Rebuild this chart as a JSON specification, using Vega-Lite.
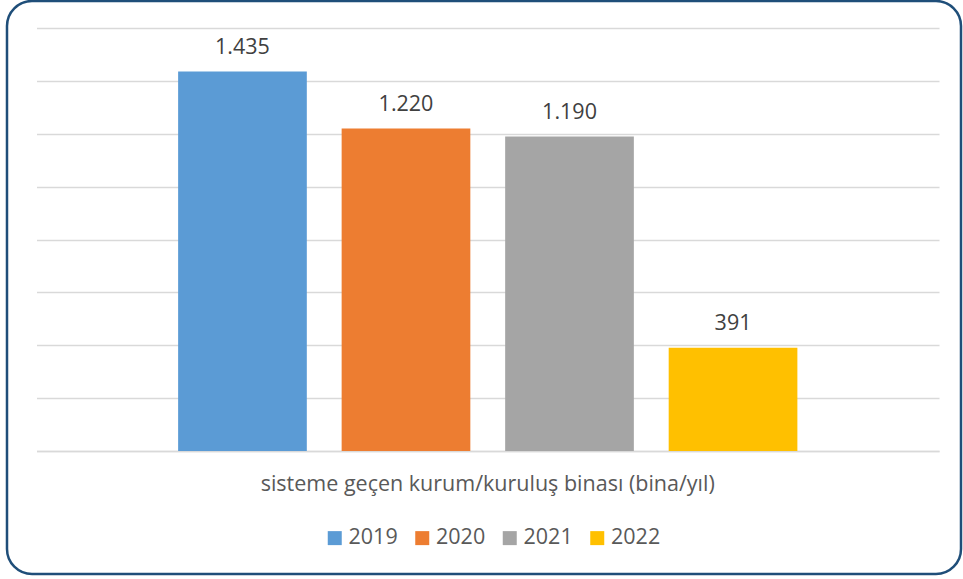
{
  "$schema": "https://vega.github.io/schema/vega-lite/v6.json",
  "width": 963,
  "height": 579,
  "autosize": {"type": "fit", "contains": "padding"},
  "padding": {"left": 7, "top": 1, "right": 2, "bottom": 5},
  "background": "white",
  "config": {
    "locale": {"number": {"decimal": ",", "thousands": ".", "grouping": [3], "currency": ["₺", ""]}},
    "view": {"stroke": "#1F4E79", "strokeWidth": 2.5, "cornerRadius": 25},
    "font": "Open Sans"
  },
  "data": {
    "values": [
      {"kategori": "sisteme geçen kurum/kuruluş binası (bina/yıl)", "yil": "2019", "deger": 1435},
      {"kategori": "sisteme geçen kurum/kuruluş binası (bina/yıl)", "yil": "2020", "deger": 1220},
      {"kategori": "sisteme geçen kurum/kuruluş binası (bina/yıl)", "yil": "2021", "deger": 1190},
      {"kategori": "sisteme geçen kurum/kuruluş binası (bina/yıl)", "yil": "2022", "deger": 391}
    ]
  },
  "encoding": {
    "x": {
      "field": "kategori",
      "type": "nominal",
      "title": null,
      "scale": {"range": [29.5, 932], "paddingInner": 0, "paddingOuter": 0.2287},
      "axis": {
        "offset": -123,
        "domain": true,
        "domainColor": "#d9d9d9",
        "domainWidth": 1.5,
        "ticks": false,
        "grid": false,
        "labelAngle": 0,
        "labelFontSize": 21.5,
        "labelColor": "#595959",
        "labelPadding": 22,
        "labelLimit": 900
      }
    },
    "xOffset": {
      "field": "yil",
      "type": "nominal",
      "scale": {"paddingInner": 0.213, "paddingOuter": 0}
    },
    "y": {
      "field": "deger",
      "type": "quantitative",
      "title": null,
      "scale": {"domain": [0, 1600], "range": [450, 27], "nice": false},
      "axis": {
        "domain": false,
        "ticks": false,
        "labels": false,
        "grid": true,
        "gridColor": "#d9d9d9",
        "gridWidth": 1.5,
        "values": [0, 200, 400, 600, 800, 1000, 1200, 1400, 1600]
      }
    }
  },
  "layer": [
    {
      "mark": {"type": "bar"},
      "encoding": {
        "color": {
          "field": "yil",
          "type": "nominal",
          "scale": {"domain": ["2019", "2020", "2021", "2022"], "range": ["#5B9BD5", "#ED7D31", "#A5A5A5", "#FFC000"]},
          "legend": {
            "orient": "none",
            "legendX": 317,
            "legendY": 526,
            "direction": "horizontal",
            "title": null,
            "symbolType": "square",
            "symbolSize": 196,
            "symbolStrokeWidth": 0,
            "labelFontSize": 21.5,
            "labelColor": "#595959",
            "columnPadding": 13.5,
            "labelOffset": 3
          }
        }
      }
    },
    {
      "mark": {"type": "text", "dy": -17.5, "baseline": "alphabetic", "fontSize": 21.5, "color": "#404040"},
      "encoding": {
        "text": {"field": "deger", "type": "quantitative", "format": ","}
      }
    }
  ]
}
